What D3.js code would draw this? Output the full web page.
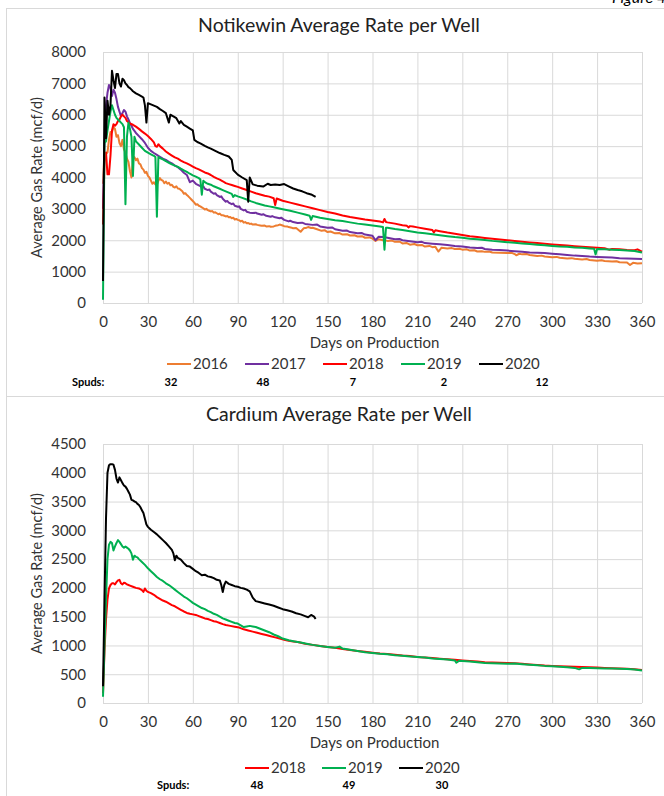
<!DOCTYPE html>
<html><head><meta charset="utf-8">
<script src="https://cdn.jsdelivr.net/npm/d3@7"></script>
<style>
body{margin:0;background:#fff;overflow:hidden;}
svg{display:block;}
</style>
</head><body>
<svg id="c" width="664" height="796"></svg>
<script>
// ---------------- DATA ----------------
const xTicks = [0,30,60,90,120,150,180,210,240,270,300,330,360];
const notikewinYTicks = [0,1000,2000,3000,4000,5000,6000,7000,8000];
const cardiumYTicks = [0,500,1000,1500,2000,2500,3000,3500,4000,4500];
const notikewinYears = ["2016","2017","2018","2019","2020"];
const notikewinSpuds = ["32","48","7","2","12"];
const cardiumYears = ["2018","2019","2020"];
const cardiumSpuds = ["48","49","30"];

// Notikewin: [day, mcf/d]
const notikewin2016 = [[0,3800],[1,4800],[2,4750],[3,4800],[4,5200],[5,5450],[6,5450],[7,5600],[8,5550],[9,5300],[10,5350],[11,5100],[12,5000],[13,5200],[14,4900],[15,4800],[16,4600],[17,4500],[18,4200],[19,4000],[20,4600],[21,4650],[22,4550],[23,4600],[24,4450],[25,4420],[26,4300],[27,4250],[28,4150],[29,4180],[30,4050],[31,4000],[32,3900],[33,3800],[34,3850],[35,3780],[36,3770],[37,3900],[38,3980],[39,3920],[40,3900],[41,3820],[42,3870],[43,3800],[44,3830],[45,3750],[46,3770],[47,3700],[48,3680],[49,3720],[50,3650],[51,3640],[52,3600],[53,3560],[54,3480],[55,3500],[56,3440],[57,3400],[58,3350],[59,3300],[60,3250],[61,3200],[62,3130],[63,3150],[64,3100],[65,3080],[66,3050],[67,3020],[68,2980],[69,3000],[70,2960],[71,2940],[72,2920],[73,2930],[74,2880],[75,2890],[76,2860],[77,2830],[78,2850],[79,2800],[80,2800],[81,2780],[82,2760],[83,2770],[84,2730],[85,2740],[86,2700],[87,2720],[88,2660],[89,2680],[90,2650],[91,2640],[92,2600],[93,2620],[94,2560],[95,2580],[96,2540],[97,2550],[98,2520],[99,2530],[100,2500],[102,2510],[103,2490],[105,2470],[106,2460],[108,2470],[109,2440],[111,2450],[112,2430],[114,2440],[115,2460],[117,2480],[118,2500],[120,2470],[121,2450],[123,2440],[124,2420],[126,2400],[127,2380],[129,2390],[130,2350],[132,2270],[134,2380],[136,2400],[137,2420],[139,2390],[140,2400],[143,2350],[146,2300],[148,2320],[150,2260],[152,2280],[155,2220],[158,2230],[160,2180],[163,2190],[165,2150],[168,2160],[170,2120],[173,2130],[175,2080],[178,2090],[180,2050],[182,1980],[184,2030],[187,2000],[190,1980],[193,1990],[195,1950],[198,1960],[200,1900],[203,1910],[205,1860],[208,1880],[210,1840],[213,1850],[215,1800],[218,1820],[220,1780],[222,1790],[224,1640],[226,1760],[230,1740],[233,1750],[235,1720],[238,1730],[240,1700],[243,1710],[245,1670],[248,1680],[250,1640],[253,1650],[255,1630],[258,1640],[260,1610],[265,1600],[270,1590],[273,1600],[275,1560],[276,1520],[278,1570],[280,1550],[283,1560],[285,1530],[290,1500],[293,1510],[295,1480],[300,1460],[303,1470],[305,1440],[310,1420],[313,1430],[315,1410],[320,1390],[323,1400],[325,1370],[330,1350],[333,1360],[335,1340],[340,1320],[343,1330],[345,1300],[350,1290],[352,1210],[354,1280],[357,1260],[360,1270]];

const notikewin2017 = [[0,3000],[1,5000],[2,6300],[3,6700],[4,6950],[5,6850],[6,6600],[7,6800],[8,6700],[9,6500],[10,6250],[11,6100],[12,5950],[13,6050],[14,6150],[15,6100],[16,5950],[17,5850],[18,5730],[19,5650],[20,5550],[22,5420],[24,5320],[26,5220],[28,5100],[30,4950],[32,4850],[34,4780],[36,4720],[38,4660],[40,4600],[42,4560],[44,4500],[46,4450],[48,4380],[50,4330],[52,4250],[54,4150],[56,4080],[58,3850],[60,3900],[62,3800],[64,3750],[66,3700],[67,3720],[68,3640],[70,3600],[71,3620],[72,3550],[74,3480],[75,3500],[76,3440],[78,3380],[79,3400],[80,3320],[82,3230],[83,3250],[84,3200],[86,3150],[87,3170],[88,3100],[90,3070],[91,3080],[92,3000],[94,2950],[95,2970],[96,2910],[98,2880],[100,2870],[102,2880],[103,2850],[106,2810],[107,2830],[109,2780],[112,2750],[113,2770],[115,2730],[118,2700],[119,2720],[121,2650],[124,2600],[125,2620],[127,2580],[130,2550],[133,2560],[135,2520],[140,2490],[143,2500],[145,2440],[150,2400],[153,2410],[155,2350],[160,2300],[163,2310],[165,2260],[170,2220],[173,2230],[175,2180],[180,2140],[182,2000],[184,2110],[187,2100],[190,2080],[195,2030],[198,2040],[200,2000],[205,1970],[210,1940],[213,1950],[215,1910],[220,1890],[225,1870],[230,1850],[235,1820],[240,1800],[245,1770],[250,1750],[253,1760],[255,1720],[260,1700],[265,1690],[270,1670],[275,1650],[280,1630],[285,1610],[290,1600],[295,1590],[300,1570],[305,1550],[310,1530],[315,1510],[320,1500],[325,1480],[330,1470],[335,1460],[340,1450],[345,1430],[350,1420],[355,1410],[360,1400]];

const notikewin2018 = [[0,2500],[1,4600],[2,4800],[3,4100],[4,4100],[5,4700],[6,5500],[7,5700],[8,5650],[9,5700],[10,5800],[11,5850],[12,5950],[13,6000],[14,5950],[15,5900],[16,5800],[18,5720],[20,5680],[22,5620],[24,5550],[26,5470],[28,5400],[30,5320],[32,5230],[34,5120],[35,5000],[36,4980],[37,5060],[38,5000],[40,4920],[42,4830],[44,4760],[46,4700],[48,4640],[50,4600],[52,4540],[54,4490],[56,4450],[58,4400],[60,4350],[62,4300],[64,4260],[66,4210],[68,4160],[70,4130],[72,4080],[74,4020],[76,3970],[78,3930],[80,3880],[82,3820],[84,3790],[86,3760],[88,3730],[90,3700],[93,3650],[96,3600],[99,3550],[102,3500],[105,3460],[108,3420],[111,3390],[114,3340],[115,3120],[116,3330],[120,3260],[125,3200],[130,3140],[135,3080],[140,3020],[145,2960],[150,2900],[155,2850],[160,2790],[165,2740],[170,2700],[175,2660],[180,2630],[185,2595],[187,2570],[188,2680],[189,2580],[190,2570],[195,2530],[200,2480],[203,2460],[204,2410],[205,2450],[207,2435],[210,2410],[215,2370],[220,2330],[221,2250],[222,2320],[225,2290],[230,2245],[235,2210],[240,2170],[245,2130],[250,2100],[255,2075],[260,2050],[265,2025],[270,2000],[275,1975],[280,1950],[285,1930],[290,1910],[295,1885],[300,1865],[305,1845],[310,1830],[315,1810],[320,1795],[325,1780],[330,1760],[335,1745],[338,1700],[340,1725],[345,1710],[350,1690],[355,1680],[357,1710],[360,1640]];

const notikewin2019 = [[0,100],[1,5100],[2,5150],[3,5500],[4,5800],[5,6100],[6,6300],[7,6150],[8,6000],[9,5900],[10,5850],[11,5800],[12,5750],[13,5700],[14,5600],[15,3150],[16,5300],[17,5750],[18,5550],[19,5300],[20,4050],[21,5300],[22,5150],[24,5050],[26,4950],[28,4850],[30,4790],[32,4740],[34,4690],[35,4650],[36,2750],[37,4650],[38,4620],[40,4580],[42,4520],[44,4470],[46,4420],[48,4380],[50,4340],[52,4280],[54,4230],[56,4180],[58,4120],[60,4070],[62,4030],[64,3980],[65,3940],[66,3450],[67,3900],[68,3850],[70,3800],[72,3770],[74,3720],[76,3680],[78,3640],[80,3600],[82,3560],[84,3520],[86,3480],[87,3380],[88,3440],[90,3400],[93,3350],[96,3300],[99,3240],[102,3190],[105,3150],[108,3110],[111,3080],[114,3050],[117,3020],[120,2990],[125,2940],[130,2880],[135,2820],[138,2780],[139,2650],[140,2770],[145,2720],[150,2680],[155,2640],[160,2610],[165,2570],[170,2530],[175,2500],[180,2470],[185,2440],[187,2420],[188,1700],[189,2400],[190,2400],[195,2360],[200,2330],[205,2290],[210,2250],[215,2220],[220,2190],[225,2160],[230,2130],[235,2100],[240,2080],[245,2050],[250,2030],[255,2010],[260,1980],[265,1960],[270,1940],[275,1920],[280,1900],[285,1880],[290,1860],[295,1840],[300,1820],[305,1800],[310,1790],[315,1770],[320,1760],[325,1740],[328,1730],[329,1550],[330,1720],[335,1710],[340,1700],[345,1690],[350,1670],[355,1660],[360,1610]];

const notikewin2020 = [[0,700],[1,6550],[2,5250],[3,6450],[4,6000],[5,6300],[6,7400],[7,7100],[8,6850],[9,7300],[10,7300],[11,7000],[12,6900],[13,7150],[14,7100],[15,7000],[16,6950],[17,6880],[18,6850],[19,6800],[20,6750],[22,6680],[24,6630],[26,6580],[27,6550],[28,6300],[29,5750],[30,6370],[32,6330],[34,6290],[36,6250],[38,6180],[40,6120],[42,6050],[43,5900],[44,5750],[45,6000],[47,5950],[49,5890],[51,5720],[52,5800],[54,5680],[56,5620],[58,5560],[60,5500],[61,5200],[63,5130],[65,5090],[68,5010],[70,4960],[72,4920],[75,4850],[78,4780],[81,4720],[84,4670],[86,4560],[87,4240],[90,4090],[93,4000],[96,3920],[97,3230],[98,4000],[100,3780],[103,3740],[107,3710],[110,3800],[112,3760],[115,3780],[118,3760],[121,3790],[124,3720],[127,3650],[130,3600],[133,3560],[136,3500],[139,3460],[142,3380]];

// Cardium: [day, mcf/d]
const cardium2018 = [[0,170],[1,900],[2,1450],[3,1800],[4,1990],[5,2050],[6,2080],[7,2080],[8,2060],[9,2100],[10,2130],[11,2140],[12,2080],[13,2060],[14,2090],[15,2080],[16,2060],[17,2050],[18,2040],[20,2020],[22,2000],[24,1990],[26,1960],[27,1930],[28,1990],[29,1950],[30,1930],[32,1910],[34,1880],[36,1840],[38,1810],[40,1780],[42,1760],[44,1730],[46,1700],[48,1680],[50,1650],[52,1620],[54,1590],[56,1565],[58,1550],[60,1540],[62,1530],[64,1510],[66,1490],[68,1470],[70,1460],[72,1440],[74,1420],[76,1410],[78,1390],[80,1370],[82,1355],[85,1340],[88,1325],[91,1310],[94,1280],[97,1260],[100,1240],[103,1220],[106,1200],[109,1180],[112,1160],[115,1140],[118,1120],[121,1100],[124,1080],[127,1070],[130,1060],[135,1030],[140,1010],[145,990],[150,975],[155,960],[160,940],[165,920],[170,905],[175,890],[180,875],[185,860],[190,850],[195,840],[200,825],[205,815],[210,800],[212,795],[215,790],[220,780],[225,770],[230,760],[235,750],[240,740],[245,730],[250,720],[255,710],[260,705],[265,700],[270,695],[275,690],[280,680],[285,670],[290,660],[295,650],[300,645],[305,640],[310,635],[315,630],[320,625],[325,620],[330,615],[335,610],[340,605],[345,600],[350,595],[355,585],[360,575]];

const cardium2019 = [[0,110],[1,1000],[2,1800],[3,2500],[4,2750],[5,2800],[6,2780],[7,2650],[8,2720],[9,2780],[10,2830],[11,2800],[12,2760],[13,2720],[14,2700],[15,2720],[16,2700],[17,2680],[18,2650],[19,2600],[20,2490],[21,2560],[22,2540],[23,2530],[24,2500],[26,2450],[28,2400],[30,2340],[32,2290],[34,2240],[36,2190],[38,2150],[40,2120],[42,2080],[44,2050],[46,2010],[48,1970],[50,1930],[52,1890],[54,1850],[56,1820],[58,1780],[60,1740],[62,1710],[64,1680],[66,1650],[68,1630],[70,1600],[72,1580],[74,1550],[76,1530],[78,1500],[80,1470],[82,1450],[84,1430],[86,1410],[88,1390],[90,1380],[92,1350],[94,1320],[96,1330],[98,1340],[100,1330],[102,1320],[105,1290],[108,1260],[111,1230],[114,1190],[117,1160],[120,1120],[124,1090],[128,1070],[132,1050],[136,1030],[140,1010],[145,990],[150,975],[155,960],[158,980],[160,945],[165,925],[170,905],[175,880],[180,870],[185,855],[190,845],[195,830],[200,820],[205,810],[210,800],[215,790],[220,775],[225,765],[230,755],[235,740],[236,700],[238,735],[240,730],[245,720],[250,710],[255,695],[260,690],[265,685],[270,680],[275,685],[280,675],[285,665],[290,655],[295,645],[300,640],[305,630],[310,620],[315,610],[318,585],[320,610],[325,610],[330,605],[335,600],[340,600],[345,595],[350,590],[355,580],[360,565]];

const cardium2020 = [[0,290],[1,1800],[2,3200],[3,4000],[4,4130],[5,4150],[6,4150],[7,4140],[8,4050],[9,3900],[10,3830],[11,3920],[12,3870],[13,3820],[14,3780],[15,3760],[16,3720],[17,3670],[18,3620],[19,3530],[20,3520],[21,3500],[22,3490],[23,3460],[24,3440],[25,3400],[26,3350],[27,3300],[28,3200],[29,3100],[30,3060],[32,3010],[34,2970],[36,2930],[38,2880],[40,2830],[42,2780],[44,2720],[46,2660],[47,2600],[48,2480],[49,2560],[50,2520],[52,2490],[54,2430],[56,2380],[58,2370],[60,2330],[62,2290],[64,2260],[66,2220],[68,2230],[70,2200],[72,2190],[74,2170],[76,2140],[78,2130],[79,2050],[80,1930],[81,2050],[82,2110],[84,2070],[86,2050],[88,2030],[90,2020],[92,2000],[94,1990],[96,1970],[98,1940],[100,1830],[102,1770],[105,1750],[108,1730],[111,1710],[114,1690],[117,1660],[120,1630],[123,1610],[126,1590],[129,1560],[132,1540],[135,1510],[137,1490],[139,1530],[141,1500],[142,1460]];

const colors = {"2016":"#ED7D31","2017":"#7030A0","2018":"#FF0000","2019":"#00B050","2020":"#000000"};

// ---------------- DRAW ----------------
const FONT = "Lato, 'Noto Sans', sans-serif";
const svg = d3.select("#c");
const grid = "#d9d9d9";

// frames
svg.append("rect").attr("x",6.5).attr("y",8.5).attr("width",700).attr("height",388)
  .attr("fill","none").attr("stroke",grid);
svg.append("rect").attr("x",6.5).attr("y",396.5).attr("width",700).attr("height",500)
  .attr("fill","none").attr("stroke",grid);
svg.append("text").attr("x",612).attr("y",3).attr("font-family",FONT)
  .attr("font-size",16).attr("font-style","italic").attr("fill","#000").text("Figure 4");

function panel(o){
  const g = svg.append("g");
  const x = d3.scaleLinear().domain([0,360]).range([o.left,o.right]);
  const y = d3.scaleLinear().domain([0,o.yMax]).range([o.bottom,o.top]);
  const pw = o.right-o.left, ph = o.bottom-o.top;

  const xa = g.append("g").attr("transform",`translate(0,${o.bottom})`)
    .call(d3.axisBottom(x).tickValues(xTicks).tickSize(-ph).tickPadding(13).tickFormat(d3.format("d")));
  const ya = g.append("g").attr("transform",`translate(${o.left},0)`)
    .call(d3.axisLeft(y).tickValues(o.yTicks).tickSize(-pw).tickPadding(17).tickFormat(d3.format("d")));
  [xa,ya].forEach(a=>{
    a.select(".domain").remove();
    a.selectAll(".tick line").attr("stroke",grid).attr("stroke-width",1);
    a.selectAll(".tick text").attr("font-family",FONT).attr("font-size",15).attr("fill","#333");
  });

  g.append("text").attr("x",339).attr("y",o.titleY).attr("text-anchor","middle")
    .attr("font-family",FONT).attr("font-size",19.5).attr("fill","#222").text(o.title);
  g.append("text").attr("x",(o.left+o.right)/2+2).attr("y",o.bottom+45).attr("text-anchor","middle")
    .attr("font-family",FONT).attr("font-size",15).attr("fill","#333").text("Days on Production");
  g.append("text").attr("transform",`translate(42,${(o.top+o.bottom)/2}) rotate(-90)`)
    .attr("text-anchor","middle").attr("font-family",FONT).attr("font-size",14.5).attr("fill","#333")
    .text("Average Gas Rate (mcf/d)");

  const line = d3.line().x(d=>x(d[0])).y(d=>y(d[1])).curve(d3.curveLinear);
  o.series.forEach(s=>{
    g.append("path").datum(s.data).attr("fill","none").attr("stroke",colors[s.year])
      .attr("stroke-width",2).attr("stroke-linejoin","round").attr("d",line);
  });

  // legend
  o.years.forEach((yr,i)=>{
    const lx = o.legendX + i*o.legendStep;
    g.append("line").attr("x1",lx).attr("x2",lx+24).attr("y1",o.legendY).attr("y2",o.legendY)
      .attr("stroke",colors[yr]).attr("stroke-width",2);
    g.append("text").attr("x",lx+26).attr("y",o.legendY+5).attr("font-family",FONT)
      .attr("font-size",15).attr("fill","#333").text(yr);
  });
  // spuds row
  g.append("text").attr("x",o.spudsLabelX).attr("y",o.spudsY).attr("font-family",FONT)
    .attr("font-size",11).attr("font-weight","bold").attr("fill","#000").text("Spuds:");
  o.spuds.forEach((s,i)=>{
    g.append("text").attr("x",o.spudsX[i]).attr("y",o.spudsY).attr("text-anchor","middle")
      .attr("font-family",FONT).attr("font-size",11).attr("font-weight","bold").attr("fill","#000").text(s);
  });
}

panel({
  title:"Notikewin Average Rate per Well", titleY:32,
  left:103, right:642, top:52, bottom:303, yMax:8000, yTicks:notikewinYTicks,
  series:[{year:"2016",data:notikewin2016},{year:"2017",data:notikewin2017},{year:"2018",data:notikewin2018},{year:"2019",data:notikewin2019},{year:"2020",data:notikewin2020}],
  years:notikewinYears, legendX:167, legendStep:78, legendY:364,
  spuds:notikewinSpuds, spudsLabelX:72, spudsX:[171,263,353,444,542], spudsY:386
});
panel({
  title:"Cardium Average Rate per Well", titleY:421,
  left:103, right:642, top:444, bottom:703, yMax:4500, yTicks:cardiumYTicks,
  series:[{year:"2018",data:cardium2018},{year:"2019",data:cardium2019},{year:"2020",data:cardium2020}],
  years:cardiumYears, legendX:245, legendStep:77, legendY:768,
  spuds:cardiumSpuds, spudsLabelX:157, spudsX:[257,349,442], spudsY:789
});
</script>
</body></html>
